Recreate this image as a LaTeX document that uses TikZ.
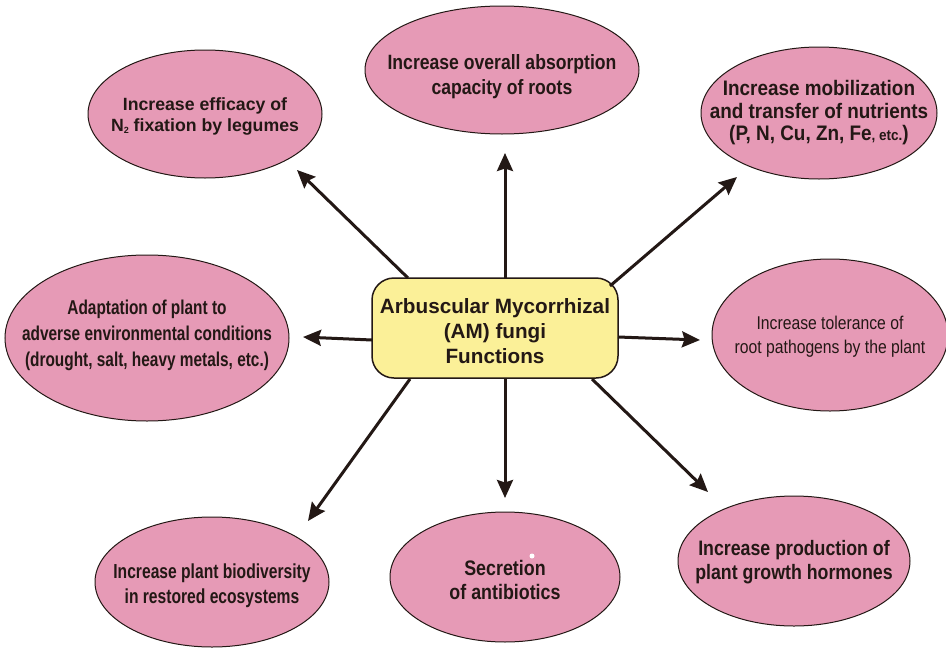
\documentclass[tikz,border=0pt]{standalone}
\usepackage{fontspec}
\setmainfont{Liberation Sans}
\newfontfamily\fN[FakeStretch=0.85]{Liberation Sans}
\newfontfamily\fM[FakeStretch=0.9]{Liberation Sans}
\newfontfamily\fS[FakeStretch=0.77]{Liberation Sans}
\usetikzlibrary{shapes.geometric,arrows.meta}
\definecolor{pinkfill}{RGB}{230,154,182}
\definecolor{yellowfill}{RGB}{251,240,152}
\definecolor{ink}{RGB}{35,24,21}
\begin{document}
\begin{tikzpicture}[x=1pt,y=-1pt,
  bubble/.style={ellipse, draw=ink, line width=1pt, fill=pinkfill, inner sep=0pt},
  label/.style={align=center, text=ink, inner sep=0pt},
  hub/.style={rectangle, rounded corners=22pt, draw=ink, line width=1.5pt, fill=yellowfill, minimum width=246pt, minimum height=100pt, inner sep=0pt},
  arr/.style={draw=ink, line width=3pt, -{Stealth[length=18pt,width=16pt,inset=2.5pt]}},
]
\useasboundingbox (0,0) rectangle (946,648);
\fill[white] (0,0) rectangle (946,648);

\node[hub] (hub) at (495,328) {};
\node[label, font=\bfseries\fontsize{20.7}{25}\selectfont] (hubT) at (495,331) {Arbuscular Mycorrhizal\\(AM) fungi\\Functions};

\node[bubble, minimum width=274pt, minimum height=128pt] (abs) at (502,70) {};
\node[label, font=\fN\bfseries\fontsize{20.7}{25}\selectfont] (absT) at (502,77) {Increase overall absorption\\capacity of roots};

\node[bubble, minimum width=234pt, minimum height=128pt] (nfix) at (205,114) {};
\node[label, font=\bfseries\fontsize{17.7}{21}\selectfont] (nfixT) at (205,116) {Increase efficacy of\\N\raisebox{-0.3ex}{\fontsize{9}{9}\selectfont 2} fixation by legumes};

\node[bubble, minimum width=236pt, minimum height=132pt] (mob) at (819,113) {};
\node[label, font=\fM\bfseries\fontsize{21}{22.5}\selectfont] (mobT) at (819,113) {Increase mobilization\\and transfer of nutrients\\(P, N, Cu, Zn, Fe{\fontsize{15}{15}\selectfont, etc.})};

\node[bubble, minimum width=236pt, minimum height=152pt] (tol) at (830,335) {};
\node[label, font=\fN\fontsize{18.5}{24}\selectfont] (tolT) at (830,337) {Increase tolerance of\\root pathogens by the plant};

\node[bubble, minimum width=284pt, minimum height=166pt] (adapt) at (147,338) {};
\node[label, font=\fS\bfseries\fontsize{20}{26}\selectfont] (adaptT) at (147,335) {Adaptation of plant to\\adverse environmental conditions\\(drought, salt, heavy metals, etc.)};

\node[bubble, minimum width=234pt, minimum height=130pt] (bio) at (212,582) {};
\node[label, font=\fS\bfseries\fontsize{20.3}{25}\selectfont] (bioT) at (212,586) {Increase plant biodiversity\\in restored ecosystems};

\node[bubble, minimum width=230pt, minimum height=130pt] (anti) at (505,577) {};
\node[label, font=\fN\bfseries\fontsize{21}{24}\selectfont] (antiT) at (505,580) {Secretion\\of antibiotics};

\node[bubble, minimum width=232pt, minimum height=130pt] (horm) at (794,561) {};
\node[label, font=\fN\bfseries\fontsize{20.9}{24}\selectfont] (hormT) at (794,562) {Increase production of\\plant growth hormones};

\fill[white] (532,556) circle (2.5);

\coordinate (sTL) at (408,278);
\coordinate (tTL) at (297,170);
\coordinate (sT) at (505,278);
\coordinate (tT) at (505,153);
\coordinate (sTR) at (610,286);
\coordinate (tTR) at (737,177);
\coordinate (sR) at (618,337);
\coordinate (tR) at (700,340);
\coordinate (sL) at (372,340);
\coordinate (tL) at (303,337);
\coordinate (sBL) at (410,379);
\coordinate (tBL) at (308,521);
\coordinate (sB) at (505,379);
\coordinate (tB) at (505,498);
\coordinate (sBR) at (592,379);
\coordinate (tBR) at (708,492);

\draw[arr] (sTL) -- (tTL);
\draw[arr] (sT) -- (tT);
\draw[arr] (sTR) -- (tTR);
\draw[arr] (sR) -- (tR);
\draw[arr] (sL) -- (tL);
\draw[arr] (sBL) -- (tBL);
\draw[arr] (sB) -- (tB);
\draw[arr] (sBR) -- (tBR);
\end{tikzpicture}
\end{document}
